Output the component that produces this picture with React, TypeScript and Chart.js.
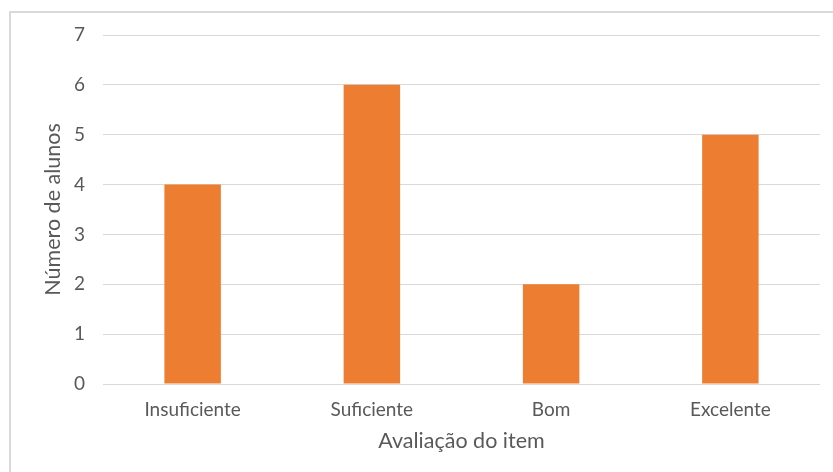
import React, { useEffect, useRef } from "react";
import { Chart, registerables } from "chart.js";

Chart.register(...registerables);

const categories = ["Insuficiente", "Suficiente", "Bom", "Excelente"];
const alunos = [4, 6, 2, 5];
const yTicks = [0, 1, 2, 3, 4, 5, 6, 7];

const FONT = "Lato, 'Open Sans', sans-serif";
const TEXT = "#595959";
const GRID = "#d9d9d9";
const BAR = "#ED7D31";

export default function App() {
  const ref = useRef<HTMLCanvasElement | null>(null);

  useEffect(() => {
    if (!ref.current) return;
    const chart = new Chart(ref.current, {
      type: "bar",
      data: {
        labels: categories,
        datasets: [
          {
            label: "Número de alunos",
            data: alunos,
            backgroundColor: BAR,
            borderWidth: 0,
            barPercentage: 0.315,
            categoryPercentage: 1,
          },
        ],
      },
      options: {
        responsive: false,
        animation: false,
        devicePixelRatio: 1,
        layout: { padding: { top: 35, right: 13, left: 0, bottom: 0 } },
        plugins: {
          legend: { display: false },
          tooltip: { enabled: false },
        },
        scales: {
          x: {
            grid: { display: false, drawTicks: false },
            border: { display: false },
            ticks: {
              color: TEXT,
              font: { family: FONT, size: 19 },
              padding: 14,
              maxRotation: 0,
            },
            title: {
              display: true,
              text: "Avaliação do item",
              color: TEXT,
              font: { family: FONT, size: 21.5 },
              padding: { top: 0, bottom: 18 },
            },
            afterFit: (scale: any) => {
              scale.height = 88;
            },
          },
          y: {
            min: 0,
            max: 7,
            afterBuildTicks: (scale: any) => {
              scale.ticks = yTicks.map((v) => ({ value: v }));
            },
            grid: { color: GRID, lineWidth: 1, drawTicks: false },
            border: { display: false },
            ticks: {
              color: TEXT,
              font: { family: FONT, size: 19 },
              padding: 18,
            },
            title: {
              display: true,
              text: "Número de alunos",
              color: TEXT,
              font: { family: FONT, size: 21.5 },
              padding: { top: 40, bottom: 0 },
            },
            afterFit: (scale: any) => {
              scale.width = 103;
            },
          },
        },
      },
    });
    return () => chart.destroy();
  }, []);

  return (
    <div
      style={{
        position: "fixed",
        left: 0,
        top: 0,
        width: 833,
        height: 472,
        overflow: "hidden",
        background: "#ffffff",
      }}
    >
      <div
        style={{
          position: "absolute",
          left: 9,
          top: 11,
          width: 900,
          height: 600,
          border: "2px solid #d9d9d9",
          boxSizing: "border-box",
        }}
      />
      <canvas
        ref={ref}
        width={833}
        height={472}
        style={{ position: "absolute", left: 0, top: 0, width: 833, height: 472 }}
      />
    </div>
  );
}
